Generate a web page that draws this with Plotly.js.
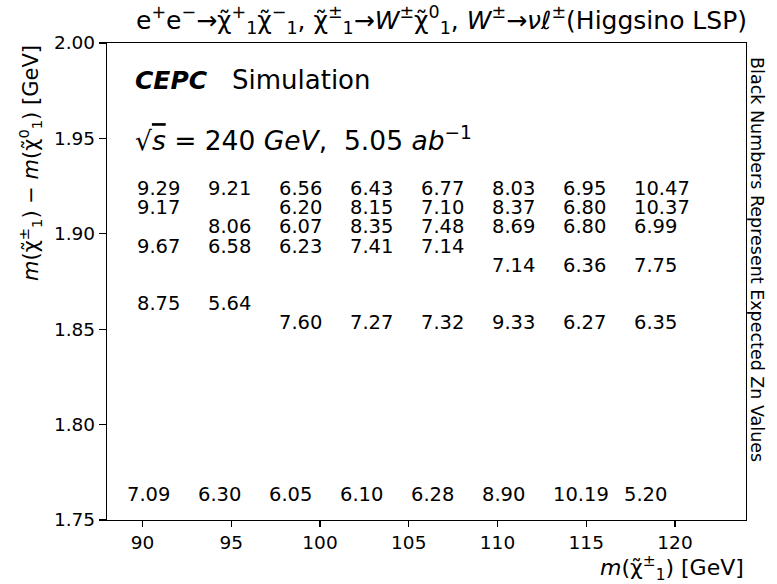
<!DOCTYPE html>
<html>
<head>
<meta charset="utf-8">
<script src="https://cdn.plot.ly/plotly-3.0.1.min.js"></script>
<style>
  html, body { margin: 0; padding: 0; background: #fff; }
  #chart { width: 777px; height: 584px; }
</style>
</head>
<body>
<div id="chart"></div>
<script>
// Chargino mass grid points (GeV) used for the upper block of labels
const massCols = [90, 94, 98, 102, 106, 110, 114, 118];

// Mass splitting rows (GeV) and the expected Zn values on each row (null = no point)
const rowDm = [1.92, 1.91, 1.90, 1.89, 1.88, 1.86, 1.85, 1.76];
const znRow192 = [9.29, 9.21, 6.56, 6.43, 6.77, 8.03, 6.95, 10.47];
const znRow191 = [9.17, null, 6.20, 8.15, 7.10, 8.37, 6.80, 10.37];
const znRow190 = [null, 8.06, 6.07, 8.35, 7.48, 8.69, 6.80, 6.99];
const znRow189 = [9.67, 6.58, 6.23, 7.41, 7.14, null, null, null];
const znRow188 = [null, null, null, null, null, 7.14, 6.36, 7.75];
const znRow186 = [8.75, 5.64, null, null, null, null, null, null];
const znRow185 = [null, null, 7.60, 7.27, 7.32, 9.33, 6.27, 6.35];
const znRow176 = [7.09, 6.30, 6.05, 6.10, 6.28, 8.90, 10.19, 5.20];
const znRows = [znRow192, znRow191, znRow190, znRow189, znRow188, znRow186, znRow185, znRow176];

// Axis ticks
const xTicks = [90, 95, 100, 105, 110, 115, 120];
const yTicks = [1.75, 1.80, 1.85, 1.90, 1.95, 2.00];

const FONT = 'DejaVu Sans, Verdana, sans-serif';
const NUM_SIZE = 19.5;

// Build the number labels, anchored at the left of each text, baseline on the row value
const annotations = [];
znRows.forEach((vals, r) => {
  const shift = (r === znRows.length - 1) ? -1.0 : -0.4;
  vals.forEach((v, c) => {
    if (v === null) return;
    annotations.push({
      x: massCols[c] + shift, y: rowDm[r], xref: 'x', yref: 'y',
      text: v.toFixed(2), showarrow: false,
      xanchor: 'left', yanchor: 'middle', yshift: 0.35 * NUM_SIZE,
      font: { family: FONT, size: NUM_SIZE, color: '#000' }
    });
  });
});

const chi = 'χ\u0303';

// Process title across the top
annotations.push({
  xref: 'paper', yref: 'paper', x: (441 - 107) / 639, y: 1 + 23 / 477,
  xanchor: 'center', yanchor: 'middle', showarrow: false,
  text: 'e<sup>+</sup>e<sup>−</sup>→' + chi + '<sup>+</sup><sub>1</sub>' + chi + '<sup>−</sup><sub>1</sub>, ' +
        chi + '<sup>±</sup><sub>1</sub>→<i>W</i><sup>±</sup>' + chi + '<sup>0</sup><sub>1</sub>, ' +
        '<i>W</i><sup>±</sup>→<i>νℓ</i><sup>±</sup>(Higgsino LSP)',
  font: { family: FONT, size: 25, color: '#000' }
});

// Experiment label and running conditions
annotations.push({
  xref: 'paper', yref: 'paper', x: 0.04, y: 0.9224, xanchor: 'left', yanchor: 'middle',
  text: '<b><i>CEPC</i></b>', showarrow: false,
  font: { family: FONT, size: 25, color: '#000' }
});
annotations.push({
  xref: 'paper', yref: 'paper', x: 0.193, y: 0.9224, xanchor: 'left', yanchor: 'middle',
  text: 'Simulation', showarrow: false,
  font: { family: FONT, size: 26, color: '#000' }
});
annotations.push({
  xref: 'paper', yref: 'paper', x: 0.04, y: 0.7987, xanchor: 'left', yanchor: 'middle',
  text: '√<span style="text-decoration:overline"><i>s</i></span> = 240 <i>GeV</i>,  5.05 <i>ab</i><sup>−1</sup>',
  showarrow: false,
  font: { family: FONT, size: 26.5, color: '#000' }
});

// Axis labels placed at the top / right ends of the axes
annotations.push({
  xref: 'paper', yref: 'paper', x: -0.1205, y: 1.0, xanchor: 'center', yanchor: 'top',
  textangle: -90, showarrow: false,
  text: '<i>m</i>(' + chi + '<sup>±</sup><sub>1</sub>) − <i>m</i>(' + chi + '<sup>0</sup><sub>1</sub>) [GeV]',
  font: { family: FONT, size: 21, color: '#000' }
});
annotations.push({
  xref: 'paper', yref: 'paper', x: 1.0, y: -0.1006, xanchor: 'right', yanchor: 'middle',
  showarrow: false,
  text: '<i>m</i>(' + chi + '<sup>±</sup><sub>1</sub>) [GeV]',
  font: { family: FONT, size: 22, color: '#000' }
});

// Side note on the right of the frame
annotations.push({
  xref: 'paper', yref: 'paper', x: 1.0172, y: 0.545, xanchor: 'center', yanchor: 'middle',
  textangle: 90, showarrow: false,
  text: 'Black Numbers Represent Expected Zn Values',
  font: { family: FONT, size: 17.5, color: '#000' }
});

const layout = {
  width: 777, height: 584,
  margin: { l: 107, r: 31, t: 43, b: 64 },
  paper_bgcolor: '#fff', plot_bgcolor: '#fff',
  showlegend: false,
  xaxis: {
    range: [88, 124], tickvals: xTicks, ticktext: xTicks.map(String),
    ticks: 'outside', ticklen: 6, tickwidth: 1.2, tickcolor: '#000',
    showline: true, linecolor: '#000', linewidth: 1.2, mirror: true,
    showgrid: false, zeroline: false,
    tickfont: { family: FONT, size: 18.5, color: '#000' }
  },
  yaxis: {
    range: [1.75, 2.0], tickvals: yTicks, ticktext: yTicks.map(v => v.toFixed(2)),
    ticks: 'outside', ticklen: 7, tickwidth: 1.2, tickcolor: '#000',
    showline: true, linecolor: '#000', linewidth: 1.2, mirror: true,
    showgrid: false, zeroline: false,
    tickfont: { family: FONT, size: 18.5, color: '#000' }
  },
  annotations: annotations
};

// An invisible trace to establish the axes
const trace = { x: [], y: [], type: 'scatter', mode: 'markers', hoverinfo: 'skip' };

Plotly.newPlot('chart', [trace], layout, { staticPlot: true, displayModeBar: false });
</script>
</body>
</html>
